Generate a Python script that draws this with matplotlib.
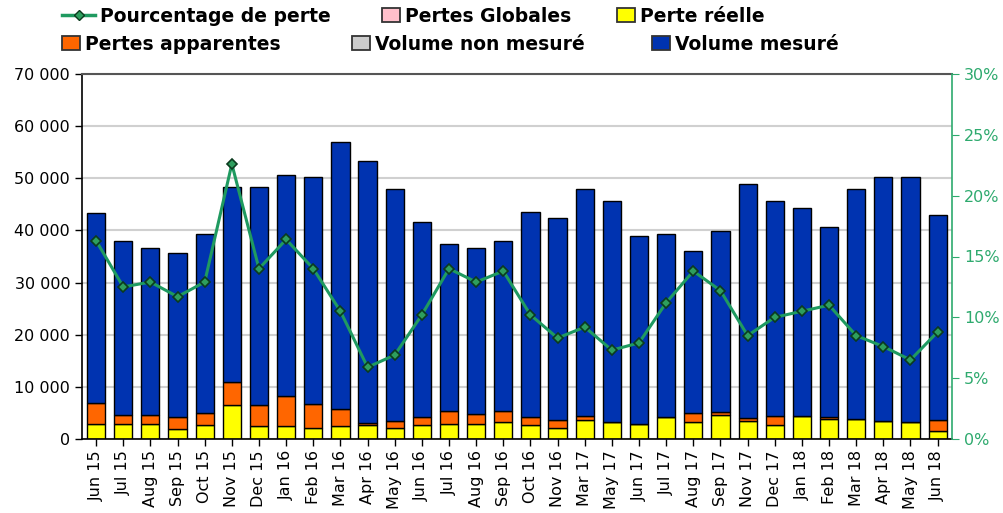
import matplotlib
matplotlib.use("Agg")
import matplotlib.pyplot as plt
from matplotlib.patches import Patch
from matplotlib.lines import Line2D
import numpy as np

months = ["Jun 15", "Jul 15", "Aug 15", "Sep 15", "Oct 15", "Nov 15", "Dec 15",
          "Jan 16", "Feb 16", "Mar 16", "Apr 16", "May 16", "Jun 16", "Jul 16",
          "Aug 16", "Sep 16", "Oct 16", "Nov 16", "Mar 17", "May 17", "Jun 17",
          "Jul 17", "Aug 17", "Sep 17", "Nov 17", "Dec 17", "Jan 18", "Feb 18",
          "Mar 18", "Apr 18", "May 18", "Jun 18"]

# volumes (m3)
perte_reelle = [2900, 2900, 2900, 2000, 2600, 6500, 2500, 2500, 2200, 2500,
                2600, 2200, 2600, 2900, 2900, 3200, 2600, 2200, 3600, 3200,
                2900, 4200, 3200, 4600, 3500, 2600, 4500, 3900, 3800, 3500,
                3200, 1600]
pertes_apparentes = [4000, 1700, 1700, 2200, 2300, 4400, 4000, 5700, 4600, 3300,
                     500, 1200, 1700, 2400, 1800, 2100, 1600, 1500, 800, 0,
                     0, 0, 1800, 500, 500, 1900, 0, 300, 0, 0,
                     0, 2000]
volume_non_mesure = [0] * 32
pertes_globales = [0] * 32
volume_total = [43300, 38000, 36600, 35600, 39300, 48300, 48300, 50600, 50300, 57000,
                53300, 48000, 41600, 37400, 36600, 37900, 43600, 42300, 48000, 45700,
                39000, 39300, 36000, 39900, 49000, 45600, 44300, 40600, 48000, 50300,
                50300, 42900]
pct_perte = [16.3, 12.5, 12.9, 11.7, 12.9, 22.6, 14.0, 16.4, 14.0, 10.5,
             5.9, 6.9, 10.2, 14.0, 12.9, 13.8, 10.2, 8.3, 9.2, 7.3,
             7.9, 11.2, 13.8, 12.2, 8.5, 10.0, 10.5, 11.0, 8.5, 7.6,
             6.5, 8.8]

YELLOW = "#FFFF00"
ORANGE = "#FF6600"
BLUE = "#0033B0"
GREY = "#CCCCCC"
PINK = "#FFC0CB"
GREEN = "#1F9A60"
GREEN_TXT = "#2EAA6E"

x = np.arange(len(months))
reelle = np.array(perte_reelle)
appar = np.array(pertes_apparentes)
mesure = np.array(volume_total) - reelle - appar

fig = plt.figure(figsize=(10.04, 5.13), dpi=100)
ax = fig.add_axes([82 / 1004, 74 / 513, 870 / 1004, 365 / 513])

w = 0.67
ax.bar(x, reelle, w, color=YELLOW, edgecolor="black", linewidth=1, zorder=2)
ax.bar(x, appar, w, bottom=reelle, color=ORANGE, edgecolor="black", linewidth=1, zorder=2)
ax.bar(x, mesure, w, bottom=reelle + appar, color=BLUE, edgecolor="black", linewidth=1, zorder=2)

ax.set_xlim(-0.52, len(months) - 0.47)
ax.set_ylim(0, 70000)
ax.set_yticks(np.arange(0, 70001, 10000))
ax.set_yticklabels([f"{v:,}".replace(",", " ") for v in range(0, 70001, 10000)])
ax.set_xticks(x)
ax.set_xticklabels(months, rotation=90)
ax.yaxis.grid(True, color="#D0D0D0", linewidth=1.5)
ax.set_axisbelow(True)
ax.tick_params(axis="both", direction="out", length=5, width=1, labelsize=11.5)
ax.tick_params(axis="x", labelsize=11.5, pad=3)
for s in ["left", "bottom"]:
    ax.spines[s].set_linewidth(1.2)
ax.spines["top"].set_color("#555555")
ax.spines["top"].set_linewidth(1.5)
ax.spines["right"].set_visible(False)

ax2 = ax.twinx()
ax2.plot(x, pct_perte, color=GREEN, linewidth=2.2, marker="D", markersize=5.5,
         markerfacecolor="#2E9E5E", markeredgecolor="#0B3B1E", markeredgewidth=1.2)
ax2.set_ylim(0, 30)
ax2.set_yticks(np.arange(0, 31, 5))
ax2.set_yticklabels([f"{v}%" for v in range(0, 31, 5)])
ax2.tick_params(axis="y", colors=GREEN_TXT, direction="out", length=5, labelsize=11.5)
ax2.spines["right"].set_color(GREEN_TXT)
ax2.spines["right"].set_linewidth(1.2)
for s in ["left", "top", "bottom"]:
    ax2.spines[s].set_visible(False)


def box(c):
    return Patch(facecolor=c, edgecolor="#333333", linewidth=1.3)


# one legend per entry, so each one sits where the reference puts it
line_handle = Line2D([], [], color=GREEN, linewidth=2.5, marker="D", markersize=5,
                     markerfacecolor="#2E9E5E", markeredgecolor="#0B3B1E")
entries = [
    (line_handle, "Pourcentage de perte", 62, 16, 1.76),
    (box(PINK), "Pertes Globales", 382, 16, 0.96),
    (box(YELLOW), "Perte réelle", 617, 16, 0.96),
    (box(ORANGE), "Pertes apparentes", 62, 44, 0.96),
    (box(GREY), "Volume non mesuré", 352, 44, 0.96),
    (box(BLUE), "Volume mesuré", 652, 44, 0.96),
]
for h, lab, px, py, hl in entries:
    fig.legend([h], [lab], loc="center left", bbox_to_anchor=(px / 1004, 1 - py / 513),
               frameon=False, prop={"size": 13.5, "weight": "bold"},
               handlelength=hl, handleheight=0.8, handletextpad=0.28,
               borderaxespad=0, borderpad=0)

fig.savefig("out.png", dpi=100)
